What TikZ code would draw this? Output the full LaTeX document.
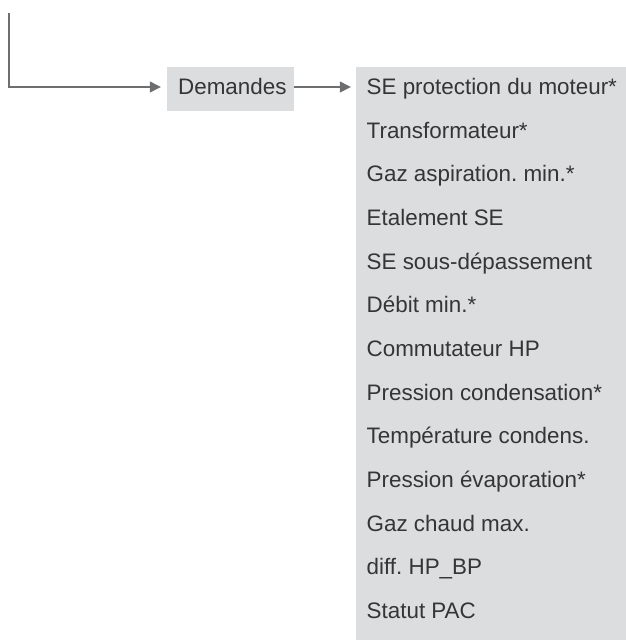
\documentclass[tikz,border=0pt]{standalone}
\usepackage{fontspec}
\setmainfont{Liberation Sans}
\usetikzlibrary{arrows.meta}
\definecolor{boxgray}{HTML}{DCDDDF}
\definecolor{linegray}{HTML}{6D6E70}
\definecolor{textgray}{HTML}{353535}
\tikzset{
  flow/.style={draw=linegray, line width=1.3pt, -{Triangle[length=11pt,width=11pt]}},
  grbox/.style={fill=boxgray, draw=none, inner sep=0pt},
  item/.style={anchor=base west, inner sep=0pt, text=textgray, font=\fontsize{22.4}{25}\selectfont},
}
\frenchspacing
\begin{document}
\begin{tikzpicture}[x=1pt,y=-1pt]
  \useasboundingbox (0,0) rectangle (626,640);
  % incoming line from above
  \coordinate (start) at (9,13);
  % "Demandes" box
  \node[grbox, minimum width=127pt, minimum height=44pt] (demandes) at (230.5,89) {};
  \node[item] (demtxt) at (178,94.5) {Demandes};
  % list of requests
  \node[grbox, minimum width=270pt, minimum height=573pt] (liste) at (491,353.5) {};
  \foreach \t [count=\i] in {SE protection du moteur*, Transformateur*,
      Gaz aspiration. min.*, Etalement SE, SE sous-dépassement, Débit min.*,
      Commutateur HP, Pression condensation*, Température condens.,
      Pression évaporation*, Gaz chaud max., diff. HP\_BP, Statut PAC}
    \node[item] (i\i) at (366.5,{94.5+(\i-1)*43.67}) {\t};
  % connectors
  \coordinate (bend) at (9,87);
  \draw[flow, shorten >=6pt] (start) -- (bend) -- (bend -| demandes.west);
  \draw[flow, shorten >=5pt] (demandes.east |- bend) -- (bend -| liste.west);
\end{tikzpicture}
\end{document}
